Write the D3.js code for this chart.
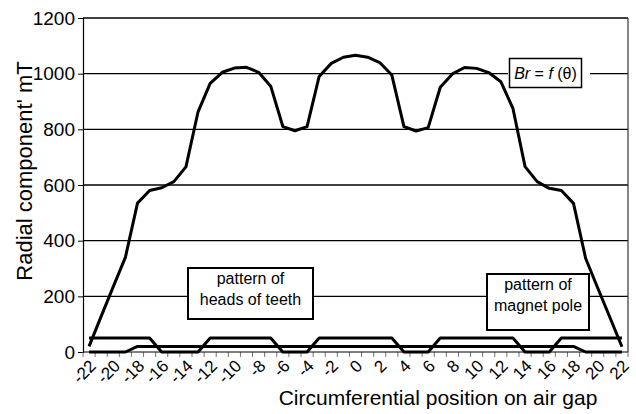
<!DOCTYPE html>
<html>
<head>
<meta charset="utf-8">
<script src="https://cdn.jsdelivr.net/npm/d3@7"></script>
<style>
    body { margin: 0; background: #fff; }
    svg text { font-family: "Liberation Sans", Arial, sans-serif; fill: #000; }
</style>
</head>
<body>
<div id="chart"></div>
<script>
// circumferential positions (categories)
const positions = [-22, -21, -20, -19, -18, -17, -16, -15, -14, -13, -12, -11, -10, -9, -8, -7, -6, -5, -4, -3, -2, -1,
    0, 1, 2, 3, 4, 5, 6, 7, 8, 9, 10, 11, 12, 13, 14, 15, 16, 17, 18, 19, 20, 21, 22];

// Br = f(theta), mT
const brValues = [20, 128, 235, 340, 535, 580, 590, 612, 665, 863, 965, 1005, 1020, 1023, 1005, 955, 810, 795, 810, 990, 1037, 1059,
    1066, 1059, 1040, 995, 810, 794, 806, 951, 999, 1022, 1019, 1004, 971, 875, 666, 612, 588, 580, 534, 337, 230, 125, 19];

// pattern of heads of teeth
const teethPattern = [50, 50, 50, 50, 50, 50, 0, 0, 0, 0, 50, 50, 50, 50, 50, 50, 0, 0, 0, 50, 50, 50,
    50, 50, 50, 50, 0, 0, 0, 50, 50, 50, 50, 50, 50, 50, 0, 0, 0, 50, 50, 50, 50, 50, 50];

// pattern of magnet pole
const magnetPattern = [0, 0, 0, 0, 20, 20, 20, 20, 20, 20, 20, 20, 20, 20, 20, 20, 20, 20, 20, 20, 20, 20,
    20, 20, 20, 20, 20, 20, 20, 20, 20, 20, 20, 20, 20, 20, 20, 20, 20, 20, 20, 0, 0, 0, 0];

const xTickLabels = [-22, -20, -18, -16, -14, -12, -10, -8, -6, -4, -2, 0, 2, 4, 6, 8, 10, 12, 14, 16, 18, 20, 22];
const yTicks = [0, 200, 400, 600, 800, 1000, 1200];

const WIDTH = 636, HEIGHT = 414;
const MARGIN = { LEFT: 83, RIGHT: 8, TOP: 18, BOTTOM: 62 };

const svg = d3.select("#chart").append("svg")
    .attr("width", WIDTH)
    .attr("height", HEIGHT);

const x = d3.scaleBand()
    .domain(positions)
    .range([MARGIN.LEFT, WIDTH - MARGIN.RIGHT])
    .padding(0);
const y = d3.scaleLinear()
    .domain([0, 1200])
    .range([HEIGHT - MARGIN.BOTTOM, MARGIN.TOP]);

const cx = d => x(d) + x.bandwidth() / 2;

// gridlines
svg.append("g")
    .selectAll("line")
    .data(yTicks.filter(d => d > 0))
    .join("line")
    .attr("x1", MARGIN.LEFT)
    .attr("x2", WIDTH - MARGIN.RIGHT)
    .attr("y1", d => y(d))
    .attr("y2", d => y(d))
    .attr("stroke", "#000")
    .attr("stroke-width", 1.4);

// right border of plot area
svg.append("line")
    .attr("x1", WIDTH - MARGIN.RIGHT).attr("x2", WIDTH - MARGIN.RIGHT)
    .attr("y1", y(1200)).attr("y2", y(0))
    .attr("stroke", "#333")
    .attr("stroke-width", 1.2);

// y axis
const yAxis = svg.append("g")
    .attr("transform", `translate(${MARGIN.LEFT},0)`)
    .call(d3.axisLeft(y).tickValues(yTicks).tickFormat(d3.format("d")).tickSize(5).tickPadding(3));
yAxis.select(".domain").attr("stroke", "#000").attr("stroke-width", 1.2);
yAxis.selectAll(".tick line").attr("stroke", "#000");
yAxis.selectAll(".tick text")
    .style("font-size", "19px")
    .style("font-family", "Liberation Sans, Arial, sans-serif");

// x axis: ticks between categories
const xEdges = positions.map(d => x(d)).concat([x.range()[1]]);
svg.append("g")
    .selectAll("line")
    .data(xEdges)
    .join("line")
    .attr("x1", d => d).attr("x2", d => d)
    .attr("y1", y(0)).attr("y2", y(0) + 5)
    .attr("stroke", "#777")
    .attr("stroke-width", 1);

svg.append("line")
    .attr("x1", MARGIN.LEFT).attr("x2", WIDTH - MARGIN.RIGHT)
    .attr("y1", y(0)).attr("y2", y(0))
    .attr("stroke", "#000")
    .attr("stroke-width", 1.2);

svg.append("g")
    .selectAll("text")
    .data(xTickLabels)
    .join("text")
    .attr("transform", d => `translate(${cx(d) + 8},${y(0) + 15}) rotate(-45)`)
    .attr("text-anchor", "end")
    .style("font-size", "17px")
    .text(d => d);

// lines
const line = d3.line()
    .x((d, i) => cx(positions[i]))
    .y(d => y(d));

[magnetPattern, teethPattern, brValues].forEach(series => {
    svg.append("path")
        .datum(series)
        .attr("d", line)
        .attr("fill", "none")
        .attr("stroke", "#000")
        .attr("stroke-width", 3)
        .attr("stroke-linejoin", "round");
});

// legend label for Br curve
svg.append("rect")
    .attr("x", 508).attr("y", 62)
    .attr("width", 82).attr("height", 22)
    .attr("fill", "#fff");
svg.append("rect")
    .attr("x", 509.5).attr("y", 58.5)
    .attr("width", 72).attr("height", 29)
    .attr("fill", "#fff")
    .attr("stroke", "#000")
    .attr("stroke-width", 1.5);
const legendText = svg.append("text")
    .attr("x", 545.5).attr("y", 79)
    .attr("text-anchor", "middle")
    .style("font-size", "16px");
legendText.append("tspan").style("font-style", "italic").text("Br");
legendText.append("tspan").text(" = ");
legendText.append("tspan").style("font-style", "italic").text("f");
legendText.append("tspan").text(" (θ)");

// annotation boxes
const boxes = [
    { x: 188, y: 268, w: 125, h: 51, lines: ["pattern of", "heads of teeth"] },
    { x: 487, y: 274, w: 102, h: 56, lines: ["pattern of", "magnet pole"] }
];
boxes.forEach(b => {
    svg.append("rect")
        .attr("x", b.x).attr("y", b.y)
        .attr("width", b.w).attr("height", b.h)
        .attr("fill", "#fff")
        .attr("stroke", "#000")
        .attr("stroke-width", 2);
    b.lines.forEach((t, i) => {
        svg.append("text")
            .attr("x", b.x + b.w / 2)
            .attr("y", b.y + 16 + i * 21)
            .attr("text-anchor", "middle")
            .style("font-size", "16px")
            .text(t);
    });
});

// axis titles
svg.append("text")
    .attr("x", 438)
    .attr("y", 405)
    .attr("text-anchor", "middle")
    .style("font-size", "21px")
    .text("Circumferential position on air gap");

svg.append("text")
    .attr("transform", "rotate(-90)")
    .attr("x", -171)
    .attr("y", 32)
    .attr("text-anchor", "middle")
    .style("font-size", "22px")
    .text("Radial component' mT");
</script>
</body>
</html>
